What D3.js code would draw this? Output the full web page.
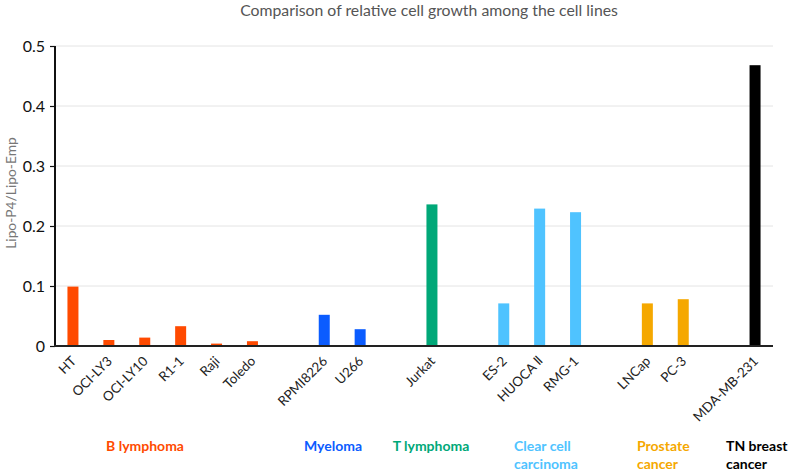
<!DOCTYPE html>
<html><head><meta charset="utf-8">
<script src="https://cdn.jsdelivr.net/npm/d3@7"></script>
<style>body{margin:0;background:#fff}svg{display:block}</style>
</head><body><svg id="c" width="790" height="472"></svg>
<script>
const slots = ["HT","OCI-LY3","OCI-LY10","R1-1","Raji","Toledo","_g1","RPMI8226","U266","_g2","Jurkat","_g3","ES-2","HUOCA \u2161","RMG-1","_g4","LNCap","PC-3","_g5","MDA-MB-231"];
const cellLines = ["HT","OCI-LY3","OCI-LY10","R1-1","Raji","Toledo","RPMI8226","U266","Jurkat","ES-2","HUOCA \u2161","RMG-1","LNCap","PC-3","MDA-MB-231"];
const values = [0.099,0.010,0.014,0.033,0.004,0.008,0.052,0.028,0.236,0.071,0.229,0.223,0.071,0.078,0.468];
const groupOf = ["B","B","B","B","B","B","M","M","T","C","C","C","P","P","TN"];
const groupKeys = ["B","M","T","C","P","TN"];
const groupNames = [["B lymphoma"],["Myeloma"],["T lymphoma"],["Clear cell","carcinoma"],["Prostate","cancer"],["TN breast","cancer"]];
const groupColors = ["#ff4a00","#0b5cff","#00a878","#4fc3ff","#f5a800","#000000"];
const yTicks = [0,0.1,0.2,0.3,0.4,0.5];

const svg = d3.select("#c");
const font = "Lato, 'Open Sans', sans-serif";
const x = d3.scaleBand().domain(slots).range([55,773]);
const y = d3.scaleLinear().domain([0,0.5]).range([346,46]);
const color = d3.scaleOrdinal().domain(groupKeys).range(groupColors);

svg.append("text").attr("x",429).attr("y",16).attr("text-anchor","middle")
  .attr("font-family",font).attr("font-size",15.8).attr("fill","#555")
  .text("Comparison of relative cell growth among the cell lines");

// gridlines
svg.append("g").selectAll("line").data(yTicks.slice(1)).join("line")
  .attr("x1",55).attr("x2",773).attr("y1",d=>y(d)).attr("y2",d=>y(d))
  .attr("stroke","#e4e4e4").attr("stroke-width",1);

// bars
const bw = 11;
svg.append("g").selectAll("rect").data(cellLines).join("rect")
  .attr("x",(d)=>x(d)+x.bandwidth()/2-bw/2)
  .attr("width",bw)
  .attr("y",(d,i)=>y(values[i]))
  .attr("height",(d,i)=>y(0)-y(values[i]))
  .attr("fill",(d,i)=>color(groupOf[i]));

// y axis
const ya = svg.append("g").attr("transform","translate(55,0)")
  .call(d3.axisLeft(y).tickValues(yTicks).tickFormat(d=>d===0?"0":d3.format(".1f")(d)).tickSize(5).tickPadding(5));
ya.select(".domain").attr("stroke","#111").attr("stroke-width",2).attr("d","M0,46V347");
ya.selectAll(".tick line").attr("stroke","#111").attr("stroke-width",1.2);
ya.selectAll(".tick text").attr("font-family",font).attr("font-size",16).attr("fill","#111");

// x axis
const xa = svg.append("g").attr("transform","translate(0,346)")
  .call(d3.axisBottom(x).tickValues(cellLines).tickSize(0).tickPadding(0));
xa.select(".domain").attr("stroke","#222").attr("stroke-width",2).attr("d","M54,0H773");
xa.selectAll(".tick text").attr("font-family",font).attr("font-size",13.3).attr("fill","#222")
  .attr("text-anchor","end").attr("dy",0)
  .attr("transform","translate(4,16) rotate(-45)");

// y title
svg.append("text").attr("transform","translate(16,193) rotate(-90)").attr("text-anchor","middle")
  .attr("font-family",font).attr("font-size",13.8).attr("fill","#777").text("Lipo-P4/Lipo-Emp");

// group labels
const gx = [145,333,431,514,637,726];
const ganchor = ["middle","middle","middle","start","start","start"];
groupKeys.forEach((k,i)=>{
  const t = svg.append("text").attr("x",gx[i]).attr("y",451).attr("text-anchor",ganchor[i])
    .attr("font-family",font).attr("font-weight","bold").attr("font-size",14).attr("fill",groupColors[i]);
  groupNames[i].forEach((s,j)=>t.append("tspan").attr("x",gx[i]).attr("dy",j?18:0).text(s));
});
</script></body></html>
